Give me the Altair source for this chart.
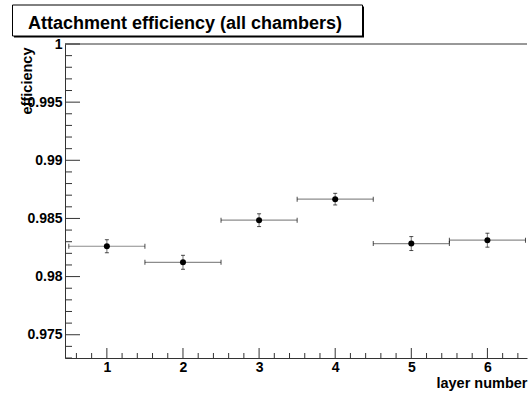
import altair as alt
import pandas as pd

# ---- data ----
layer = [1, 2, 3, 4, 5, 6]
efficiency = [0.98261, 0.98123, 0.98485, 0.98666, 0.98284, 0.98313]
eff_err = [0.00056, 0.0006, 0.00055, 0.0005, 0.0006, 0.0006]
layer_err = [0.5, 0.5, 0.5, 0.5, 0.5, 0.5]

x_major = [1, 2, 3, 4, 5, 6]
x_minor = [0.6, 0.8, 1.2, 1.4, 1.6, 1.8, 2.2, 2.4, 2.6, 2.8, 3.2, 3.4, 3.6, 3.8,
           4.2, 4.4, 4.6, 4.8, 5.2, 5.4, 5.6, 5.8, 6.2, 6.4]
y_major = [0.975, 0.98, 0.985, 0.99, 0.995, 1.0]
y_minor = [0.973, 0.974, 0.976, 0.977, 0.978, 0.979, 0.981, 0.982, 0.983, 0.984,
           0.986, 0.987, 0.988, 0.989, 0.991, 0.992, 0.993, 0.994, 0.996, 0.997,
           0.998, 0.999]

title_text = "Attachment efficiency (all chambers)"
x_title = "layer number"
y_title = "efficiency"

W, H = 462, 314
FONT = "Liberation Sans"

df = pd.DataFrame({
    "layer": layer,
    "eff": efficiency,
    "xlo": [a - b for a, b in zip(layer, layer_err)],
    "xhi": [a + b for a, b in zip(layer, layer_err)],
    "ylo": [a - b for a, b in zip(efficiency, eff_err)],
    "yhi": [a + b for a, b in zip(efficiency, eff_err)],
})

xs = alt.Scale(domain=[0.45, 6.52], nice=False, zero=False)
ys = alt.Scale(domain=[0.973, 1.0], nice=False, zero=False)

xaxis = alt.Axis(values=x_major, format="d", title=x_title, ticks=False,
                 labelPadding=2, labelFlush=False,
                 titleAnchor="end", titleAlign="right", titleX=W, titleY=29,
                 titleBaseline="alphabetic")
yaxis = alt.Axis(values=y_major, format="~g", title=y_title, ticks=False,
                 labelPadding=3, labelFlush=False,
                 titleAngle=-90, titleAlign="right", titleX=-34, titleY=3,
                 titleBaseline="alphabetic", titleAnchor="end")

base = alt.Chart(df)

xerr = base.mark_rule(color="#8c8c8c", strokeWidth=1.2).encode(
    x=alt.X("xlo:Q", scale=xs, axis=xaxis),
    x2="xhi:Q",
    y=alt.Y("eff:Q", scale=ys, axis=yaxis),
)
xcap_lo = base.mark_tick(color="black", orient="vertical", size=5, thickness=1).encode(
    x=alt.X("xlo:Q", scale=xs), y=alt.Y("eff:Q", scale=ys))
xcap_hi = base.mark_tick(color="black", orient="vertical", size=5, thickness=1).encode(
    x=alt.X("xhi:Q", scale=xs), y=alt.Y("eff:Q", scale=ys))
yerr = base.mark_rule(color="#8c8c8c", strokeWidth=1.2).encode(
    x=alt.X("layer:Q", scale=xs), y=alt.Y("ylo:Q", scale=ys), y2="yhi:Q")
ycap_lo = base.mark_tick(color="black", orient="horizontal", size=4, thickness=1).encode(
    x=alt.X("layer:Q", scale=xs), y=alt.Y("ylo:Q", scale=ys))
ycap_hi = base.mark_tick(color="black", orient="horizontal", size=4, thickness=1).encode(
    x=alt.X("layer:Q", scale=xs), y=alt.Y("yhi:Q", scale=ys))
points = base.mark_circle(color="black", size=36, opacity=1).encode(
    x=alt.X("layer:Q", scale=xs), y=alt.Y("eff:Q", scale=ys))

# inward-pointing ticks (ROOT style)
tick_col = "#333333"
xmaj = alt.Chart(pd.DataFrame({"v": x_major})).mark_rule(color=tick_col).encode(
    x=alt.X("v:Q", scale=xs), y=alt.value(H), y2=alt.value(H - 10))
xmin = alt.Chart(pd.DataFrame({"v": x_minor})).mark_rule(color=tick_col).encode(
    x=alt.X("v:Q", scale=xs), y=alt.value(H), y2=alt.value(H - 5))
ymaj = alt.Chart(pd.DataFrame({"v": y_major})).mark_rule(color=tick_col).encode(
    y=alt.Y("v:Q", scale=ys), x=alt.value(0), x2=alt.value(15))
ymin = alt.Chart(pd.DataFrame({"v": y_minor})).mark_rule(color=tick_col).encode(
    y=alt.Y("v:Q", scale=ys), x=alt.value(0), x2=alt.value(7))
top_line = alt.Chart(pd.DataFrame({"a": [0]})).mark_rule(color=tick_col).encode(
    x=alt.value(0), x2=alt.value(W), y=alt.value(0))

# title box (ROOT TPaveText with shadow)
one = pd.DataFrame({"t": [title_text]})
shadow = alt.Chart(one).mark_rect(color="black").encode(
    x=alt.value(-51), x2=alt.value(299), y=alt.value(-37.5), y2=alt.value(-6.5))
box = alt.Chart(one).mark_rect(fill="white", stroke="black", strokeWidth=1).encode(
    x=alt.value(-52.5), x2=alt.value(297.5), y=alt.value(-39), y2=alt.value(-8))
title = alt.Chart(one).mark_text(font=FONT, fontSize=18, fontWeight="bold",
                                 align="center", baseline="alphabetic",
                                 color="black").encode(
    text="t:N", x=alt.value(120), y=alt.value(-15))

chart = alt.layer(
    xerr, xcap_lo, xcap_hi, yerr, ycap_lo, ycap_hi, points,
    xmaj, xmin, ymaj, ymin, top_line, shadow, box, title
).properties(
    width=W, height=H,
    autosize=alt.AutoSizeParams(type="none"),
    padding={"left": 65, "top": 44, "right": 1, "bottom": 36},
    background="white",
).configure_view(stroke=None).configure_axis(
    grid=False, domainColor=tick_col, domainWidth=1,
    labelFont=FONT, labelFontWeight="bold", labelFontSize=14, labelColor="black",
    titleFont=FONT, titleFontWeight="bold", titleFontSize=14.5, titleColor="black",
)

chart.save("out.html", embed_options={"renderer": "svg", "actions": False})
